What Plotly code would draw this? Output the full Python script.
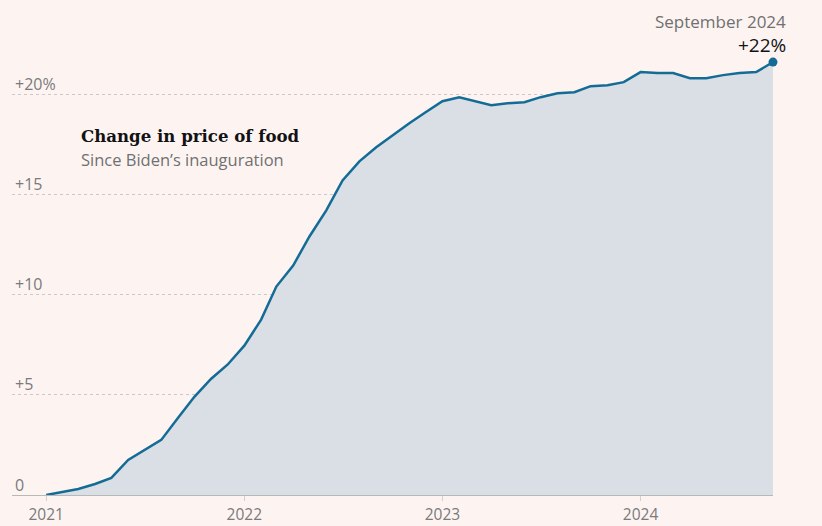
import plotly.graph_objects as go
import pandas as pd

# Monthly change in food prices since Jan 2021 (%)
months = pd.date_range("2021-01-01", "2024-09-01", freq="MS")
values = [
    0.0, 0.15, 0.3, 0.55, 0.85, 1.75, 2.25, 2.75, 3.85, 4.9, 5.8, 6.5,
    7.45, 8.75, 10.4, 11.45, 12.9, 14.2, 15.7, 16.65, 17.35, 17.95, 18.55, 19.1,
    19.65, 19.85, 19.65, 19.45, 19.55, 19.6, 19.85, 20.05, 20.1, 20.4, 20.45, 20.6,
    21.1, 21.05, 21.05, 20.8, 20.8, 20.95, 21.05, 21.1, 21.6,
]
y_tick_vals = [0, 5, 10, 15, 20]
y_tick_text = ["0", "+5", "+10", "+15", "+20%"]
x_tick_vals = ["2021-01-01", "2022-01-01", "2023-01-01", "2024-01-01"]
x_tick_text = ["2021", "2022", "2023", "2024"]

title_text = "Change in price of food"
subtitle_text = "Since Biden’s inauguration"
last_label = "September 2024"
last_value_label = "+22%"

LINE = "#146c96"
BG = "#fdf4f2"
SANS = "Open Sans"

fig = go.Figure()
fig.add_trace(go.Scatter(
    x=months, y=values, mode="lines",
    line=dict(color=LINE, width=2.5),
    fill="tozeroy", fillcolor="#dadfe5",
    hoverinfo="skip", showlegend=False,
))
fig.add_trace(go.Scatter(
    x=[months[-1]], y=[values[-1]], mode="markers",
    marker=dict(color=LINE, size=9),
    cliponaxis=False, hoverinfo="skip", showlegend=False,
))

fig.update_layout(
    width=822, height=526,
    margin=dict(l=12, r=49, t=14, b=31),
    paper_bgcolor=BG, plot_bgcolor=BG,
    font=dict(family=SANS, color="#7a7a7a", size=16),
    xaxis=dict(
        type="date",
        range=["2020-10-30", "2024-09-01"],
        tickvals=x_tick_vals, ticktext=x_tick_text,
        showgrid=False, zeroline=False,
        showline=True, linecolor="#b8b8b8", linewidth=1,
        ticks="outside", ticklen=5, tickcolor="#d0d0d0",
        tickfont=dict(family=SANS, size=15.5, color="#7a7a7a"),
        ticklabeloverflow="allow", ticklabelstandoff=0,
        automargin=False,
    ),
    yaxis=dict(
        range=[0, 24],
        tickvals=y_tick_vals, ticktext=y_tick_text,
        showgrid=True, gridcolor="#c9c9c9", griddash="dot", gridwidth=1,
        zeroline=False, showline=False, ticks="",
        ticklabelposition="inside", ticklabelshift=-10, ticklabelstandoff=0,
        ticklabeloverflow="allow",
        tickfont=dict(family=SANS, size=16, color="#7a7a7a"),
        automargin=False,
    ),
    annotations=[
        dict(x=0.0, xref="paper", y=17.9, yref="y", xshift=67,
             text="<b>" + title_text + "</b>", showarrow=False,
             xanchor="left", yanchor="middle",
             font=dict(family="DejaVu Serif", size=16.6, color="#121212")),
        dict(x=0.0, xref="paper", y=16.75, yref="y", xshift=67,
             text=subtitle_text, showarrow=False,
             xanchor="left", yanchor="middle",
             font=dict(family=SANS, size=16.5, color="#707070")),
        dict(x=months[-1], y=values[-1], xref="x", yref="y",
             text=last_label, showarrow=False, xanchor="right", yanchor="middle",
             xshift=15, yshift=41,
             font=dict(family=SANS, size=17, color="#707070")),
        dict(x=months[-1], y=values[-1], xref="x", yref="y",
             text=last_value_label, showarrow=False, xanchor="right", yanchor="middle",
             xshift=15, yshift=17,
             font=dict(family=SANS, size=19, color="#121212")),
    ],
)

fig.write_html("out.html", config={"displayModeBar": False})
with open("out.html", "r", encoding="utf-8") as f:
    html = f.read()
html = html.replace("<head>", "<head><style>html,body{margin:0;padding:0;background:%s;}</style>" % BG, 1)
with open("out.html", "w", encoding="utf-8") as f:
    f.write(html)
